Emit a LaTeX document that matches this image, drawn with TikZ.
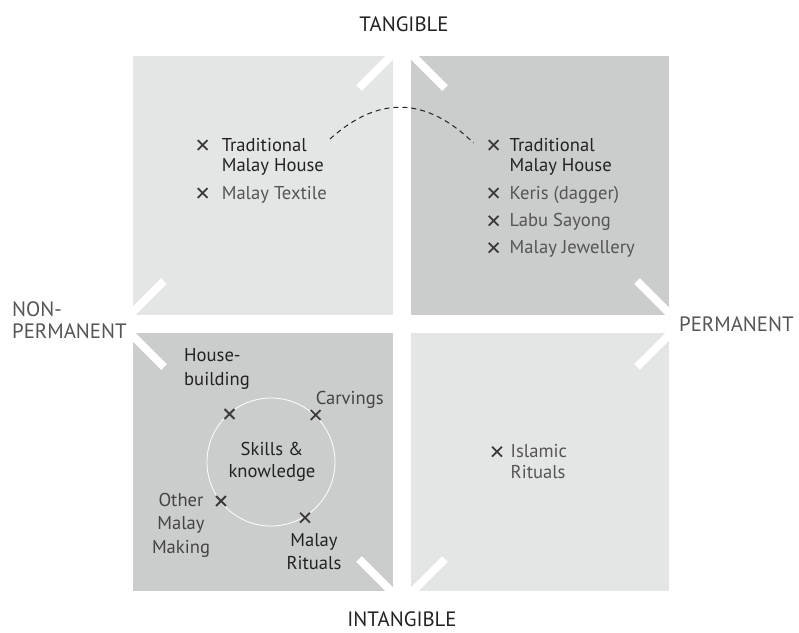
\documentclass[tikz,border=0pt]{standalone}
\usepackage{fontspec}
\setmainfont{PT Sans}
\usetikzlibrary{shapes.misc}
\definecolor{qlight}{HTML}{E4E5E5}
\definecolor{qdark}{HTML}{CBCCCC}
\definecolor{txtdark}{HTML}{222222}
\definecolor{txtgray}{HTML}{555555}
\definecolor{txtmid}{HTML}{444444}
\definecolor{crossc}{HTML}{3A3A3A}
\tikzset{
  chev/.style={draw=white, line width=8pt},
  itemtxt/.style={font=\fontsize{18.6}{20.3}\selectfont, inner sep=0pt, anchor=base west, align=left},
  bltxt/.style={font=\fontsize{18.6}{23.3}\selectfont, inner sep=0pt, anchor=base},
  axislab/.style={font=\fontsize{20.8}{21}\selectfont, inner sep=0pt},
  xmark/.style={cross out, draw=crossc, line width=1.8pt, minimum size=8pt, inner sep=0pt},
  linkarc/.style={draw=txtdark, line width=1pt, dash pattern=on 5pt off 4pt},
}
\begin{document}
\begin{tikzpicture}[x=1pt,y=-1pt]
\useasboundingbox (0,0) rectangle (799,632);
% quadrants
\fill[qlight] (133,56) rectangle (393,315);
\fill[qdark]  (411,56) rectangle (669,315);
\fill[qdark]  (133,333) rectangle (393,591);
\fill[qlight] (411,333) rectangle (669,591);
% chevrons
\draw[chev] (359,88) -- (402,45) -- (445,88);
\draw[chev] (164,281) -- (121,324) -- (164,367);
\draw[chev] (637,281) -- (680,324) -- (637,367);
\draw[chev] (359,559) -- (402,602) -- (445,559);
% axis labels
\node[axislab, anchor=base, text=txtdark] (tang) at (404,31) {TANGIBLE};
\node[axislab, anchor=base, text=txtdark] (intang) at (402,626) {INTANGIBLE};
\node[axislab, anchor=base west, align=left, text=txtgray, font=\fontsize{20.8}{21.2}\selectfont] (nonperm) at (12,338) {NON-\\PERMANENT};
\node[axislab, anchor=base west, text=txtgray] (perm) at (679,331.7) {PERMANENT};
% top-left
\node[xmark] (x1) at (202.6,145) {};
\node[itemtxt, text=txtdark] (tmh1) at (221.6,171.3) {Traditional\\Malay House};
\node[xmark] (x2) at (202.6,193) {};
\node[itemtxt, text=txtgray] (mt) at (221.6,199) {Malay Textile};
% top-right
\node[xmark] (x3) at (493.6,145) {};
\node[itemtxt, text=txtdark] (tmh2) at (509.5,171.3) {Traditional\\Malay House};
\node[xmark] (x4) at (493.6,193) {};
\node[itemtxt, text=txtgray] (keris) at (509.5,199) {Keris (dagger)};
\node[xmark] (x5) at (493.6,220.7) {};
\node[itemtxt, text=txtgray] (labu) at (509.5,226.7) {Labu Sayong};
\node[xmark] (x6) at (493.6,247.7) {};
\node[itemtxt, text=txtgray] (jew) at (509.5,253.7) {Malay Jewellery};
% dashed link
\coordinate (arcS) at (330,139);
\coordinate (arcE) at (473.5,143);
\draw[linkarc] (arcS) .. controls (378,95.7) and (425.7,96.3) .. (arcE);
% bottom-left
\node[draw=white, line width=0.8pt, circle, minimum size=128pt, inner sep=0pt] (skc) at (271,462) {};
\node[bltxt, text=txtdark, align=center, font=\fontsize{18.6}{22.7}\selectfont] (sk) at (272,477.7) {Skills \&\\knowledge};
\node[xmark] (x7) at (229.5,414) {};
\node[xmark] (x8) at (315.6,415) {};
\node[xmark] (x9) at (221,501) {};
\node[xmark] (x10) at (305,517.7) {};
\node[bltxt, anchor=base west, align=left, text=txtdark] (hb) at (184,385) {House-\\building};
\node[bltxt, anchor=base west, text=txtmid] (carv) at (315.6,404) {Carvings};
\node[bltxt, align=center, text=txtmid, font=\fontsize{18.6}{23.5}\selectfont] (omm) at (181,553) {Other\\Malay\\Making};
\node[bltxt, align=center, text=txtdark, font=\fontsize{18.6}{22.3}\selectfont] (mr) at (314,569) {Malay\\Rituals};
% bottom-right
\node[xmark] (x11) at (497,451.7) {};
\node[itemtxt, text=txtgray, font=\fontsize{18.6}{21}\selectfont] (isl) at (510.5,478.7) {Islamic\\Rituals};
\end{tikzpicture}
\end{document}
